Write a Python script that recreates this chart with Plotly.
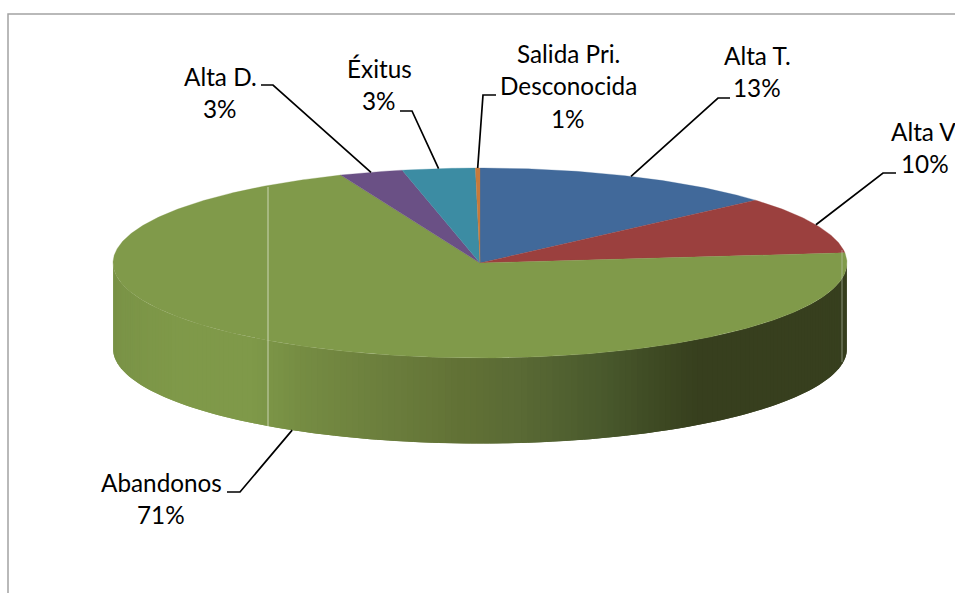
import numpy as np
import plotly.graph_objects as go

# Data
categories = ["Alta T.", "Alta V.", "Abandonos", "Alta D.", "Éxitus", "Salida Pri. Desconocida"]
shares = [13.5, 9.8, 70.5, 2.8, 3.2, 0.2]          # drawn share of each slice
percent_labels = ["13%", "10%", "71%", "3%", "3%", "1%"]
label_lines = [["Alta T.", "13%"], ["Alta V.", "10%"], ["Abandonos", "71%"],
               ["Alta D.", "3%"], ["Éxitus", "3%"], ["Salida Pri.", "Desconocida", "1%"]]
slice_colors = ["#41699A", "#9B403E", "#809A4A", "#6A5085", "#3C8CA3", "#C67A3C"]

# Label layout (pixels)
label_x = [757, 925, 161, 220, 379, 568]
label_y = [[55.5, 87.5], [131.5, 163.5], [482.5, 514.5], [76.5, 108.5], [68.5, 100.5], [53.5, 85.5, 118.5]]
elbow = [[(730, 98), (718, 98)], [(896, 173), (883, 173)], [(227, 492), (240, 492)],
         [(261, 85), (273, 85)], [(400, 111), (412, 111)], [(496, 95), (483, 95)]]

# Pie geometry (pixels)
CX, CY, RX, RY, DEPTH = 480, 263, 367, 95, 85.5

# Shading of the wall along x
shade_x = [113, 122, 170, 255, 300, 400, 460, 520, 600, 680, 700, 847]
shade_r = [120, 123, 127, 127, 118, 106, 98, 90, 74, 58, 55, 55]
shade_g = [145, 148, 153, 153, 141, 124, 114, 106, 90, 68, 63, 63]
shade_b = [ 69, 71, 73, 73, 67, 60, 54, 53, 45, 32, 30, 30]

WIDTH, HEIGHT = 955, 593


def px(theta):
    return CX + RX * np.sin(theta)


def py(theta):
    return CY - RY * np.cos(theta)


fig = go.Figure()
total = sum(shares)
edges = np.concatenate([[0], np.cumsum(shares)]) / total * 2 * np.pi
mids = (edges[:-1] + edges[1:]) / 2

# Wall: the visible front half of every slice, as narrow shaded strips.
# Each strip reaches to the far end of the next one, which is painted over it.
for i in range(len(shares)):
    lo, hi = max(edges[i], np.pi / 2), min(edges[i + 1], 3 * np.pi / 2)
    if hi <= lo:
        continue
    steps = np.linspace(lo, hi, int((hi - lo) / np.radians(1.0)) + 2)
    for k in range(len(steps) - 1):
        a, b = steps[k], steps[k + 1]
        end = steps[min(k + 2, len(steps) - 1)]
        t = np.array([a, b, end])
        xm = px((a + b) / 2)
        col = "rgb(%d,%d,%d)" % (np.interp(xm, shade_x, shade_r),
                                 np.interp(xm, shade_x, shade_g),
                                 np.interp(xm, shade_x, shade_b))
        fig.add_trace(go.Scatter(
            x=np.concatenate([px(t), px(t[::-1]), px(t[:1])]),
            y=np.concatenate([py(t), py(t[::-1]) + DEPTH, py(t[:1])]),
            mode="lines", fill="toself", fillcolor=col,
            line=dict(width=0), hoverinfo="skip"))

# Top face
for i, name in enumerate(categories):
    t = np.linspace(edges[i], edges[i + 1], max(3, int((edges[i + 1] - edges[i]) / np.radians(0.5))))
    fig.add_trace(go.Scatter(
        x=np.concatenate([[CX], px(t), [CX]]),
        y=np.concatenate([[CY], py(t), [CY]]),
        mode="lines", fill="toself", fillcolor=slice_colors[i], name=name,
        line=dict(color=slice_colors[i], width=0.3), hoverinfo="skip"))

# Thin light seams of the original picture
fig.add_trace(go.Scatter(x=[268, 268], y=[187, 427], mode="lines",
                         line=dict(color="rgba(240,243,232,0.85)", width=0.8), hoverinfo="skip"))
fig.add_trace(go.Scatter(x=[842, 842], y=[250, 362], mode="lines",
                         line=dict(color="rgba(200,205,190,0.7)", width=0.8), hoverinfo="skip"))

# Leader lines and labels
annotations = []
for i in range(len(shares)):
    m = mids[i]
    ex, ey = px(m), py(m)
    if np.cos(m) < 0:
        ey += DEPTH
    pts = elbow[i]
    fig.add_trace(go.Scatter(x=[pts[0][0], pts[1][0], ex], y=[pts[0][1], pts[1][1], ey],
                             mode="lines", line=dict(color="black", width=1.7), hoverinfo="skip"))
    for text, y in zip(label_lines[i], label_y[i]):
        annotations.append(dict(x=label_x[i], y=y, text=text, showarrow=False, xanchor="center",
                                yanchor="middle", font=dict(family="Lato", size=24.3, color="black")))

# Chart frame: only left and top edges are inside the picture
fig.add_trace(go.Scatter(x=[8, 8, 955], y=[593, 14, 14], mode="lines",
                         line=dict(color="#A3A3A3", width=1.5), hoverinfo="skip"))

fig.update_layout(
    width=WIDTH, height=HEIGHT, margin=dict(l=0, r=0, t=0, b=0),
    paper_bgcolor="white", plot_bgcolor="white", showlegend=False,
    xaxis=dict(range=[0, WIDTH], visible=False, fixedrange=True),
    yaxis=dict(range=[HEIGHT, 0], visible=False, fixedrange=True),
    annotations=annotations,
)
fig.write_html("out.html", config={"displayModeBar": False},
               post_script="document.body.style.margin='0';document.body.style.overflow='hidden';")
